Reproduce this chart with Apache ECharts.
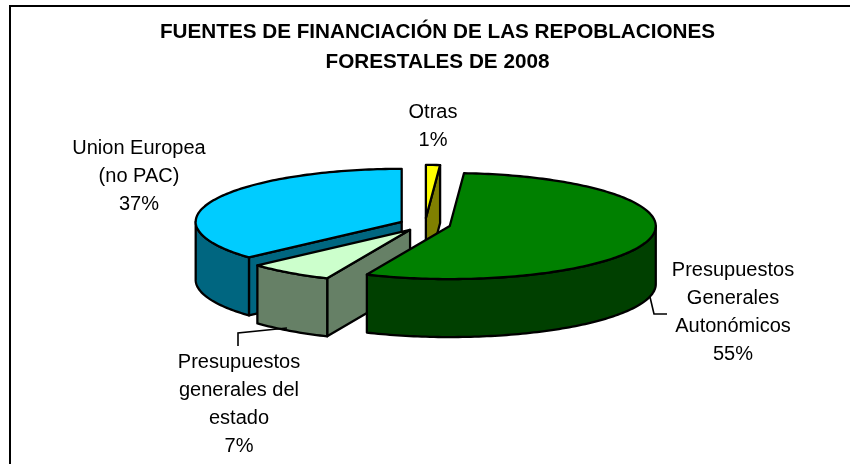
<!DOCTYPE html>
<html><head><meta charset="utf-8">
<style>html,body{margin:0;padding:0;background:#fff}#c{width:850px;height:464px}</style>
<script src="https://cdn.jsdelivr.net/npm/echarts@6/dist/echarts.min.js"></script>
</head><body><div id="c"></div>
<script>
// Data, clockwise from the top of the pie
const categories = ['Otras', 'Presupuestos Generales Autonómicos', 'Presupuestos generales del estado', 'Union Europea (no PAC)'];
const values = [1.1, 55.49, 6.7, 36.71];
const percentLabels = ['1%', '55%', '7%', '37%'];
const labelLines = [['Otras'], ['Presupuestos', 'Generales', 'Autonómicos'], ['Presupuestos', 'generales del', 'estado'], ['Union Europea', '(no PAC)']];
const topColors = ['#FFFF00', '#008000', '#CCFFCC', '#00CCFF'];
const sideColors = ['#808000', '#004000', '#668066', '#006680'];
const paintRank = [1, 3, 2, 0];
const labelCentres = [[433, 112], [733, 270], [239, 362], [139, 148]];
const leaders = [null, [[650, 297], [654, 314], [667, 314]], [[287, 328], [238, 333], [238, 346]], null];

const PIE = {cx: 425, cy: 224.5, rx: 206, ry: 53, depth: 58, explode: 25.5};
const LINE_H = 28.3;
const FONT = '"Liberation Sans", Arial, sans-serif';
const total = values.reduce((a, b) => a + b, 0);
const TWO_PI = 2 * Math.PI;

function renderSlice(params, api) {
  const i = params.dataIndex;
  let before = 0;
  for (let k = 0; k < i; k++) before += values[k];
  const a0 = before / total * TWO_PI;
  const a1 = (before + api.value(0)) / total * TWO_PI;
  const mid = (a0 + a1) / 2;
  const ax = PIE.cx + PIE.explode * Math.sin(mid);
  const ay = PIE.cy - PIE.explode * Math.cos(mid) * PIE.ry / PIE.rx;
  const rim = t => [ax + PIE.rx * Math.sin(t), ay - PIE.ry * Math.cos(t)];
  const arc = (s, e) => {
    const n = Math.max(2, Math.ceil(Math.abs(e - s) / 0.02));
    const out = [];
    for (let k = 0; k <= n; k++) out.push(rim(s + (e - s) * k / n));
    return out;
  };
  const down = p => [p[0], p[1] + PIE.depth];
  const base = paintRank[i] * 10;
  const poly = (points, fill, z) => ({
    type: 'polygon', z2: base + z, shape: {points},
    style: {fill, stroke: '#000', lineWidth: 2.3, lineJoin: 'round'}
  });
  const children = [];
  const side = sideColors[i];
  const apex = [ax, ay];

  // Radial cut faces: the start edge shows in the lower half and left-back, the end edge only in the right-back
  const edgeFace = t => {
    const r = rim(t);
    return poly([apex, r, down(r), down(apex)], side, 1);
  };
  if (a0 > Math.PI / 2) children.push(edgeFace(a0));
  if (a1 < Math.PI / 2) children.push(edgeFace(a1));
  // Outer wall: the front half of the rim
  const ws = Math.max(a0, Math.PI / 2), we = Math.min(a1, 1.5 * Math.PI);
  if (we > ws) {
    const top = arc(ws, we);
    children.push(poly(top.concat(top.map(down).reverse()), side, 2));
  }
  // Top face
  children.push(poly([apex].concat(arc(a0, a1)), topColors[i], 3));

  // Label lines and percentage
  const lines = labelLines[i].concat(percentLabels[i]);
  const [lx, ly] = labelCentres[i];
  lines.forEach((t, k) => children.push({
    type: 'text', z2: 100,
    style: {text: t, x: lx, y: ly + k * LINE_H, align: 'center', verticalAlign: 'middle',
            font: '20px ' + FONT, fill: '#000'}
  }));
  if (leaders[i]) children.push({
    type: 'polyline', z2: 5 + base, shape: {points: leaders[i]},
    style: {fill: null, stroke: '#000', lineWidth: 1.6}
  });
  return {type: 'group', children};
}

const chart = echarts.init(document.getElementById('c'), null, {renderer: 'canvas'});
chart.setOption({
  animation: false,
  backgroundColor: '#fff',
  title: {
    text: 'FUENTES DE FINANCIACIÓN DE LAS REPOBLACIONES\nFORESTALES DE 2008',
    left: 432.5, top: 12, textAlign: 'center',
    textStyle: {fontFamily: FONT, fontWeight: 'bold', fontSize: 20.7, lineHeight: 30, color: '#000'}
  },
  graphic: [{type: 'rect', silent: true, shape: {x: 10, y: 6, width: 860, height: 480},
             style: {fill: null, stroke: '#000', lineWidth: 2}}],
  series: [{
    type: 'custom', coordinateSystem: 'none', silent: true,
    data: values.map((v, i) => ({name: categories[i], value: [v]})),
    renderItem: renderSlice
  }]
});
</script></body></html>
